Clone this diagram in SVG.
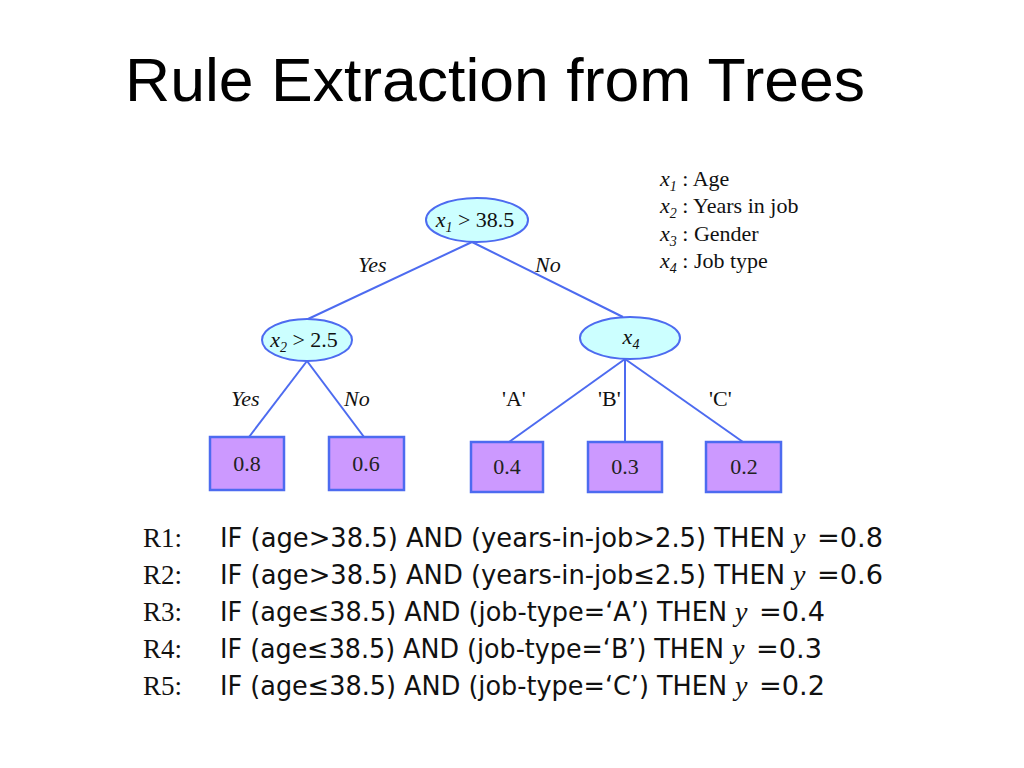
<svg xmlns="http://www.w3.org/2000/svg" width="1024" height="768" viewBox="0 0 1024 768">
<style>
.bg{fill:#ffffff}
.title{font-family:"Liberation Sans",Arial,sans-serif;font-size:62px;fill:#000}
.ell{fill:#ccffff;stroke:#4d6bf0;stroke-width:2}
.box{fill:#cc99ff;stroke:#4d6bf0;stroke-width:2.5}
.edge{stroke:#4d6bf0;stroke-width:2;fill:none}
.ser{font-family:"Liberation Serif","Times New Roman",serif;fill:#111}
.it{font-style:italic}
.node{font-size:22px}
.lab{font-size:22px;font-style:italic}
.q{font-size:22px}
.val{font-size:22px;fill:#222}
.leg{font-size:22px}
.sub{font-size:14px;font-style:italic}
.rule{font-family:"DejaVu Sans","Liberation Sans",sans-serif;font-stretch:condensed;font-size:26.5px;fill:#111}
.rn{font-family:"Liberation Serif","Times New Roman",serif;font-size:27px;fill:#111}
.ry{font-family:"Liberation Serif","Times New Roman",serif;font-size:28px;font-style:italic;fill:#111}
</style>
<rect class="bg" x="0" y="0" width="1024" height="768"/>
<text class="title" x="125" y="101" textLength="740" lengthAdjust="spacingAndGlyphs">Rule Extraction from Trees</text>

<g id="connectors">
<line class="edge" x1="472" y1="242" x2="308" y2="319"/>
<line class="edge" x1="472" y1="242" x2="623" y2="317"/>
<line class="edge" x1="307" y1="361" x2="249" y2="437"/>
<line class="edge" x1="307" y1="361" x2="364" y2="437"/>
<line class="edge" x1="625" y1="359" x2="509" y2="442"/>
<line class="edge" x1="625" y1="359" x2="625" y2="442"/>
<line class="edge" x1="625" y1="359" x2="743" y2="442"/>
<text class="ser lab" x="358" y="272">Yes</text>
<text class="ser lab" x="535" y="272">No</text>
<text class="ser lab" x="231" y="406">Yes</text>
<text class="ser lab" x="344" y="406">No</text>
<text class="ser q" x="502" y="406">'A'</text>
<text class="ser q" x="598" y="406">'B'</text>
<text class="ser q" x="709" y="406">'C'</text>
</g>

<g id="n_root">
<ellipse class="ell" cx="477" cy="220" rx="51" ry="22"/>
<text class="ser node" x="475" y="227" text-anchor="middle"><tspan class="it">x</tspan><tspan class="sub" dy="5">1</tspan><tspan dy="-5"> &gt; 38.5</tspan></text>
</g>
<g id="n_x2">
<ellipse class="ell" cx="307" cy="340" rx="45" ry="21"/>
<text class="ser node" x="304" y="347" text-anchor="middle"><tspan class="it">x</tspan><tspan class="sub" dy="5">2</tspan><tspan dy="-5"> &gt; 2.5</tspan></text>
</g>
<g id="n_x4">
<ellipse class="ell" cx="630" cy="338" rx="50" ry="21"/>
<text class="ser node" x="631" y="344" text-anchor="middle"><tspan class="it">x</tspan><tspan class="sub" dy="5">4</tspan></text>
</g>

<g id="leaf_08">
<rect class="box" x="210" y="437" width="74" height="53"/>
<text class="ser val" x="247" y="471" text-anchor="middle">0.8</text>
</g>
<g id="leaf_06">
<rect class="box" x="329" y="437" width="75" height="53"/>
<text class="ser val" x="366" y="471" text-anchor="middle">0.6</text>
</g>
<g id="leaf_04">
<rect class="box" x="471" y="442" width="72" height="50"/>
<text class="ser val" x="507" y="474" text-anchor="middle">0.4</text>
</g>
<g id="leaf_03">
<rect class="box" x="588" y="442" width="74" height="50"/>
<text class="ser val" x="625" y="474" text-anchor="middle">0.3</text>
</g>
<g id="leaf_02">
<rect class="box" x="706" y="442" width="75" height="50"/>
<text class="ser val" x="744" y="474" text-anchor="middle">0.2</text>
</g>

<g id="legend">
<text class="ser leg" x="660" y="186"><tspan class="it">x</tspan><tspan class="sub" dy="5">1</tspan><tspan dy="-5"> : Age</tspan></text>
<text class="ser leg" x="660" y="213"><tspan class="it">x</tspan><tspan class="sub" dy="5">2</tspan><tspan dy="-5"> : Years in job</tspan></text>
<text class="ser leg" x="660" y="241"><tspan class="it">x</tspan><tspan class="sub" dy="5">3</tspan><tspan dy="-5"> : Gender</tspan></text>
<text class="ser leg" x="660" y="268"><tspan class="it">x</tspan><tspan class="sub" dy="5">4</tspan><tspan dy="-5"> : Job type</tspan></text>
</g>

<g id="rules">
<text class="rn" x="143" y="547">R1:</text>
<text class="rule" x="220" y="547" textLength="565" lengthAdjust="spacingAndGlyphs">IF (age&gt;38.5) AND (years-in-job&gt;2.5) THEN</text>
<text class="ry" x="793" y="547">y</text>
<text class="rule" x="817" y="547" textLength="66" lengthAdjust="spacingAndGlyphs">=0.8</text>

<text class="rn" x="143" y="584">R2:</text>
<text class="rule" x="220" y="584" textLength="565" lengthAdjust="spacingAndGlyphs">IF (age&gt;38.5) AND (years-in-job≤2.5) THEN</text>
<text class="ry" x="793" y="584">y</text>
<text class="rule" x="817" y="584" textLength="66" lengthAdjust="spacingAndGlyphs">=0.6</text>

<text class="rn" x="143" y="621">R3:</text>
<text class="rule" x="220" y="621" textLength="507" lengthAdjust="spacingAndGlyphs">IF (age≤38.5) AND (job-type=‘A’) THEN</text>
<text class="ry" x="735" y="621">y</text>
<text class="rule" x="759" y="621" textLength="66" lengthAdjust="spacingAndGlyphs">=0.4</text>

<text class="rn" x="143" y="658">R4:</text>
<text class="rule" x="220" y="658" textLength="504" lengthAdjust="spacingAndGlyphs">IF (age≤38.5) AND (job-type=‘B’) THEN</text>
<text class="ry" x="732" y="658">y</text>
<text class="rule" x="756" y="658" textLength="66" lengthAdjust="spacingAndGlyphs">=0.3</text>

<text class="rn" x="143" y="695">R5:</text>
<text class="rule" x="220" y="695" textLength="507" lengthAdjust="spacingAndGlyphs">IF (age≤38.5) AND (job-type=‘C’) THEN</text>
<text class="ry" x="735" y="695">y</text>
<text class="rule" x="759" y="695" textLength="66" lengthAdjust="spacingAndGlyphs">=0.2</text>
</g>
</svg>
